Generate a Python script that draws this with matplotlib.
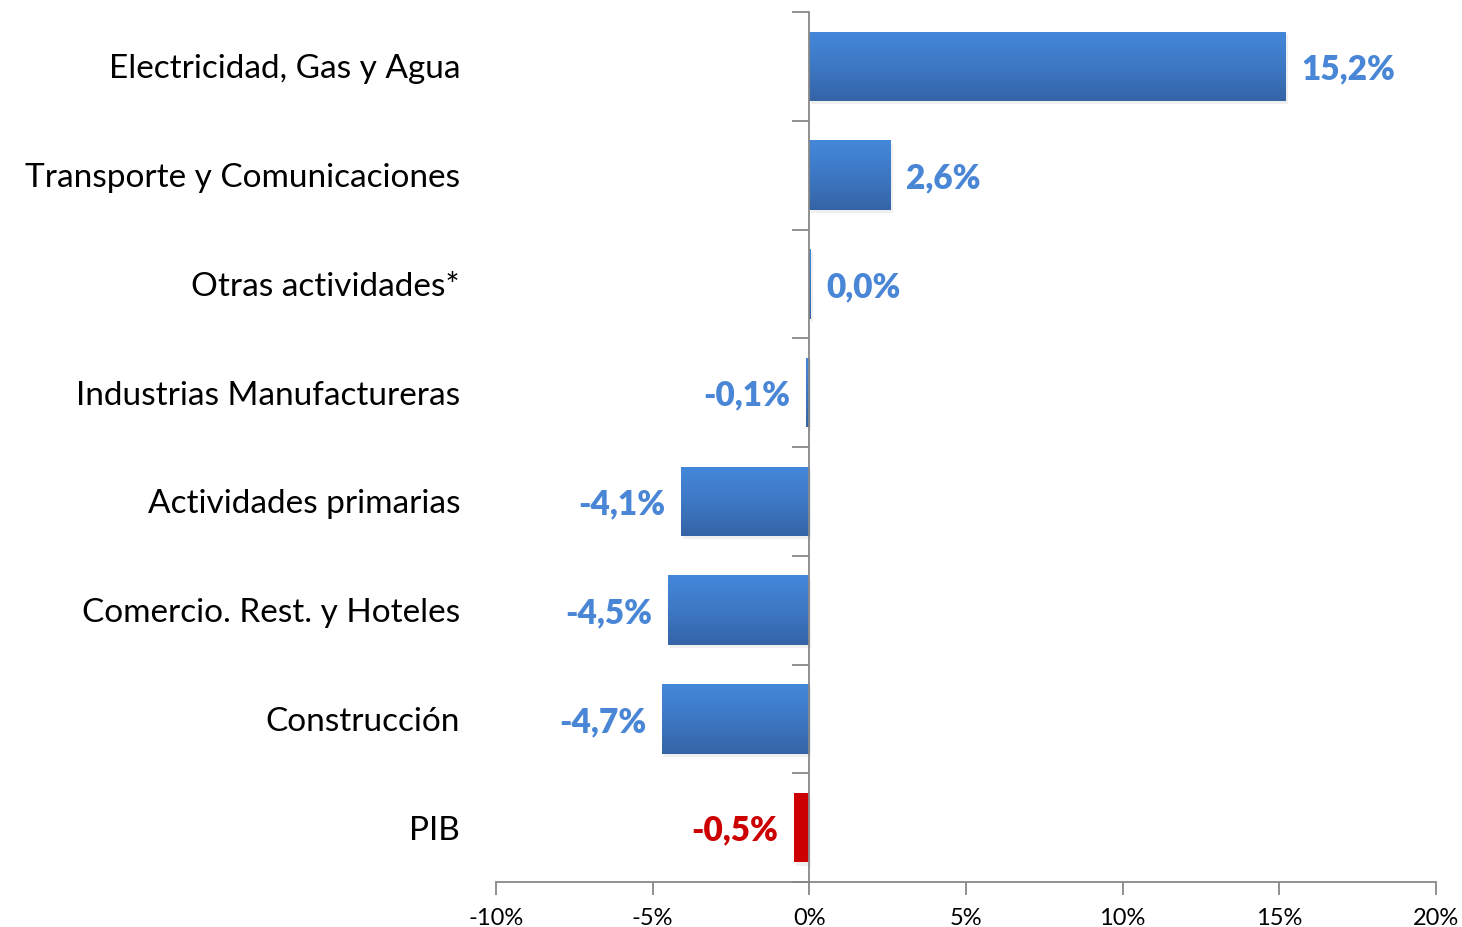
import numpy as np
import matplotlib.pyplot as plt
import matplotlib.transforms as mtransforms
from matplotlib.colors import LinearSegmentedColormap

plt.rcParams['font.family'] = ['Lato', 'DejaVu Sans']

categories = ["Electricidad, Gas y Agua", "Transporte y Comunicaciones", "Otras actividades*",
              "Industrias Manufactureras", "Actividades primarias", "Comercio. Rest. y Hoteles",
              "Construcción", "PIB"]
values = [15.2, 2.6, 0.04, -0.1, -4.1, -4.5, -4.7, -0.5]
labels = ["15,2%", "2,6%", "0,0%", "-0,1%", "-4,1%", "-4,5%", "-4,7%", "-0,5%"]
xticks = [-10, -5, 0, 5, 10, 15, 20]
xticklabels = ["-10%", "-5%", "0%", "5%", "10%", "15%", "20%"]

fig = plt.figure(figsize=(14.62, 9.27), dpi=100)
ax = fig.add_axes([496/1462, 1-882/927, 940/1462, 870/927])

n = len(categories)
ypos = np.arange(n)[::-1]
blue_grad = LinearSegmentedColormap.from_list("g", ["#3464a6", "#3d78c4", "#4488da"])
grad = np.linspace(0, 1, 100).reshape(-1, 1)

# nudge texts a few pixels down, like the original
down = ax.transData + mtransforms.ScaledTranslation(0, -3/100, fig.dpi_scale_trans)

for i, (v, y) in enumerate(zip(values, ypos)):
    is_pib = categories[i] == "PIB"
    color = "#cc0000" if is_pib else "#3d78c4"
    # soft shadow
    ax.barh(y - 0.03, v, height=0.64, left=0, color="#cccccc", alpha=0.3, zorder=1,
            transform=ax.transData + mtransforms.ScaledTranslation(2/100, 0, fig.dpi_scale_trans))
    bar = ax.barh(y, v, height=0.64, color=color, zorder=2)[0]
    if not is_pib:
        x0, x1 = sorted([0, v])
        im = ax.imshow(grad, cmap=blue_grad, aspect='auto', origin='lower',
                       extent=[x0, x1, y - 0.32, y + 0.32], zorder=3)
        im.set_clip_path(bar)
    lc = "#cc0000" if is_pib else "#4a86d6"
    if v >= 0:
        ax.text(v + 0.5, y, labels[i], ha='left', va='center', fontsize=24,
                fontweight='heavy', color=lc, zorder=4, transform=down)
    else:
        ax.text(v - 0.5, y, labels[i], ha='right', va='center', fontsize=24,
                fontweight='heavy', color=lc, zorder=4, transform=down)

trans = mtransforms.blended_transform_factory(fig.transFigure, ax.transData) + \
    mtransforms.ScaledTranslation(0, -3/100, fig.dpi_scale_trans)
for c, y in zip(categories, ypos):
    ax.text(460/1462, y, c, transform=trans, ha='right', va='center', fontsize=24, color='black')

ax.set_xlim(-10, 20)
ax.set_ylim(-0.5, n - 0.5)
ax.set_xticks(xticks)
ax.set_xticklabels(xticklabels, fontsize=17)
ax.set_yticks(np.arange(-0.5, n, 1))
ax.set_yticklabels([])

for s in ['top', 'right']:
    ax.spines[s].set_visible(False)
ax.spines['left'].set_position(('data', 0))
ax.spines['left'].set_color('#888888')
ax.spines['bottom'].set_color('#888888')
ax.spines['left'].set_linewidth(1.3)
ax.spines['bottom'].set_linewidth(1.3)
ax.spines['left'].set_zorder(5)
ax.tick_params(axis='x', length=9, width=1.3, color='#888888', pad=10)
ax.tick_params(axis='y', length=12, width=1.3, color='#888888')

fig.savefig("out.png", dpi=100)
